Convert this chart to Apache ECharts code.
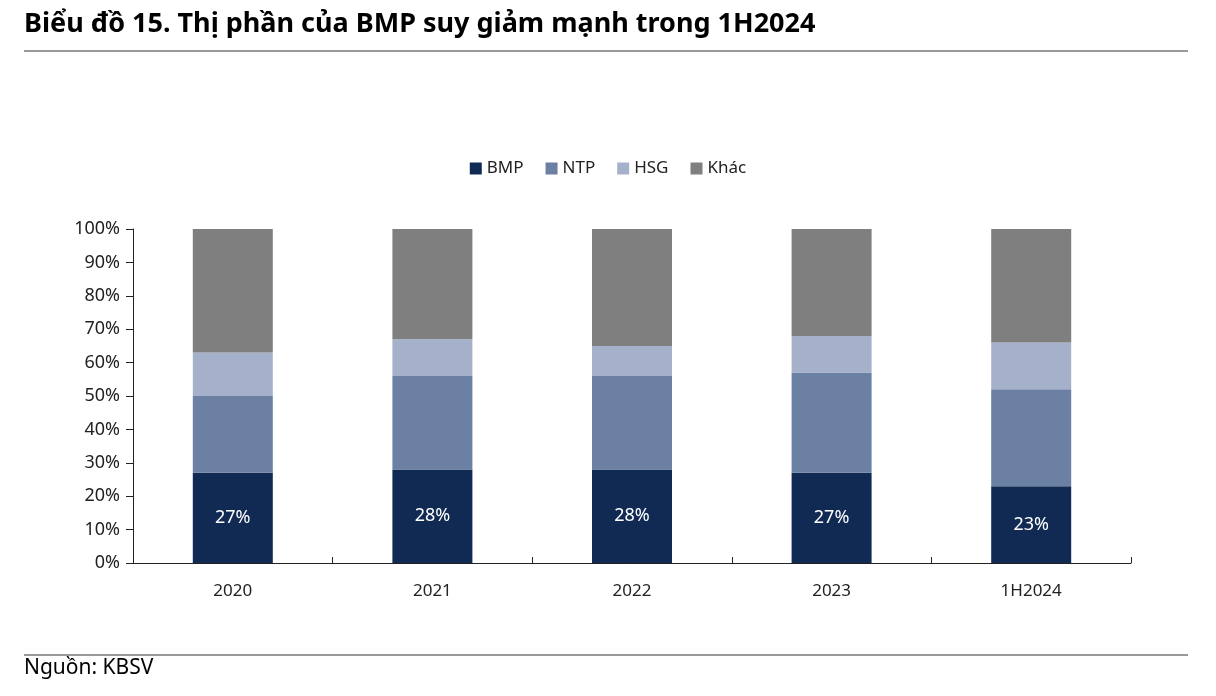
<!DOCTYPE html>
<html><head><meta charset="utf-8">
<script src="https://cdn.jsdelivr.net/npm/echarts@6/dist/echarts.min.js"></script>
<style>html,body{margin:0;padding:0;background:#fff}#c{width:1216px;height:696px}</style>
</head><body><div id="c"></div>
<script>
const categories = ['2020','2021','2022','2023','1H2024'];
const bmp  = [27, 28, 28, 27, 23];
const ntp  = [23, 28, 28, 30, 29];
const hsg  = [13, 11, 9, 11, 14];
const khac = [37, 33, 35, 32, 34];
const yTicks = [0,10,20,30,40,50,60,70,80,90,100];

const font = '"Noto Sans", sans-serif';
const chart = echarts.init(document.getElementById('c'));
const mk = (name, data, color, label) => ({
  name, type: 'bar', stack: 'a', data, barWidth: 80,
  itemStyle: {color},
  label: label ? {show: true, position: 'inside', color: '#fff', fontSize: 18, fontFamily: font, formatter: p => p.value + '%'} : {show: false}
});
chart.setOption({
  animation: false,
  textStyle: {fontFamily: font},
  legend: {
    top: 155, left: 'center', itemWidth: 12, itemHeight: 12, itemGap: 22, icon: 'rect',
    textStyle: {fontSize: 17, color: '#222', fontFamily: font},
    data: ['BMP','NTP','HSG','Khác']
  },
  grid: {left: 133, right: 85, top: 229, bottom: 133},
  xAxis: {
    type: 'category', data: categories,
    axisLine: {lineStyle: {color: '#222'}},
    axisTick: {show: true, inside: true, length: 6, lineStyle: {color: '#222'}},
    axisLabel: {fontSize: 17, color: '#222', margin: 20, fontFamily: font}
  },
  yAxis: {
    type: 'value', min: 0, max: 100, interval: 10,
    axisLine: {show: true, lineStyle: {color: '#222'}},
    axisTick: {show: true, length: 7, lineStyle: {color: '#222'}},
    splitLine: {show: false},
    axisLabel: {fontSize: 18, color: '#222', margin: 13, fontFamily: font, formatter: v => yTicks.includes(v) ? v + '%' : ''}
  },
  series: [
    mk('BMP', bmp, '#102a54', true),
    mk('NTP', ntp, '#6b80a3', false),
    mk('HSG', hsg, '#a5b1ca', false),
    mk('Khác', khac, '#7f7f7f', false)
  ],
  graphic: [
    {type: 'text', left: 24, top: 11, style: {text: 'Biểu đồ 15. Thị phần của BMP suy giảm mạnh trong 1H2024', font: 'bold 27px "Liberation Sans Narrow", "Noto Sans", sans-serif', fill: '#000'}},
    {type: 'line', shape: {x1: 24, y1: 51, x2: 1188, y2: 51}, style: {stroke: '#777', lineWidth: 1.5}},
    {type: 'line', shape: {x1: 24, y1: 655, x2: 1188, y2: 655}, style: {stroke: '#777', lineWidth: 1.5}},
    {type: 'text', left: 24, top: 658, style: {text: 'Nguồn: KBSV', font: '21px "Noto Sans", sans-serif', fill: '#000'}}
  ]
});
</script></body></html>
